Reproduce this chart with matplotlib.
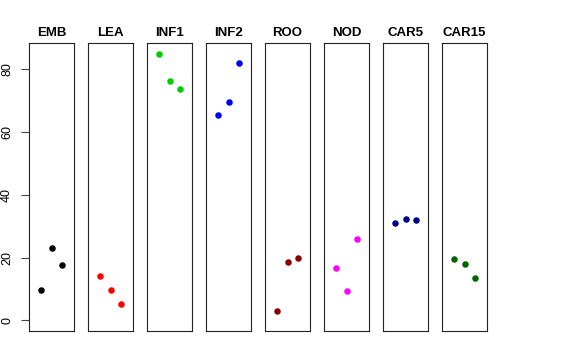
import matplotlib
matplotlib.use('Agg')
from matplotlib import pyplot as plt

plt.rcParams['font.family'] = ['Liberation Sans', 'DejaVu Sans']

tissues = ['EMB', 'LEA', 'INF1', 'INF2', 'ROO', 'NOD', 'CAR5', 'CAR15']
colors = ['black', '#FF0000', '#00CD00', '#0000FF', '#8B0000', '#FF00FF', '#00008B', '#006400']
reps = [1, 2, 3]
values = [
    [9.8, 23.2, 17.7],
    [14.0, 9.8, 5.2],
    [84.9, 76.4, 73.8],
    [65.3, 69.7, 81.9],
    [2.9, 18.6, 19.9],
    [16.6, 9.2, 25.9],
    [31.1, 32.2, 32.0],
    [19.4, 18.1, 13.4],
]
yticks = [0, 20, 40, 60, 80]

W, H = 576, 360
fig = plt.figure(figsize=(W / 100, H / 100), dpi=100)

left = 29
width = 45
step = 59
top = 43
bottom = 331

for i, (name, col, vals) in enumerate(zip(tissues, colors, values)):
    ax = fig.add_axes([(left + i * step) / W, (H - bottom) / H,
                       width / W, (bottom - top) / H])
    ax.scatter(reps, vals, color=col, s=22, linewidths=0)
    ax.set_xlim(-0.16, 4.16)
    ax.set_ylim(-3.4, 88.4)
    ax.set_xticks([])
    ax.set_title(name, fontsize=9.5, fontweight='bold', pad=5)
    for sp in ax.spines.values():
        sp.set_linewidth(0.8)
        sp.set_color('#222222')
    if i == 0:
        ax.set_yticks(yticks)
        ax.set_yticklabels([str(t) for t in yticks], rotation=90, va='center', fontsize=9)
        ax.tick_params(axis='y', length=5.5, width=0.8, pad=6, color='#444444')
    else:
        ax.set_yticks([])

plt.savefig('out.png', dpi=100)
